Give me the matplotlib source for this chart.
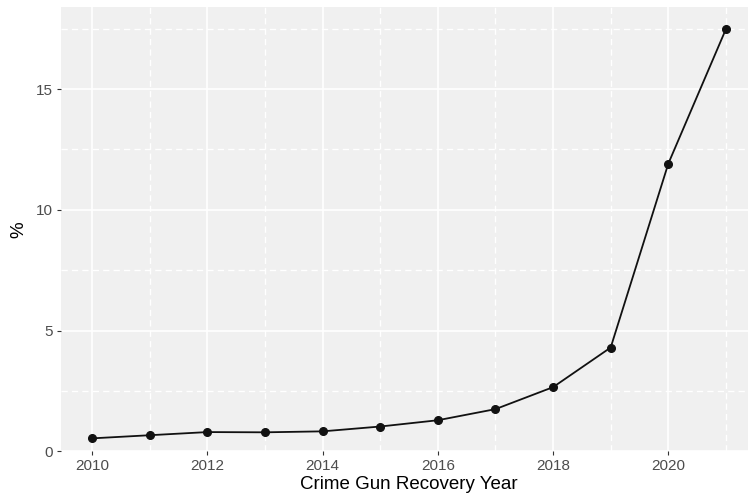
import matplotlib
matplotlib.use("Agg")
import matplotlib.pyplot as plt
from matplotlib.ticker import MultipleLocator

years = [2010, 2011, 2012, 2013, 2014, 2015, 2016, 2017, 2018, 2019, 2020, 2021]
pct = [0.54, 0.67, 0.80, 0.79, 0.83, 1.03, 1.29, 1.75, 2.66, 4.30, 11.91, 17.48]
x_ticks = [2010, 2012, 2014, 2016, 2018, 2020]
y_ticks = [0, 5, 10, 15]

plt.rcParams['font.family'] = ['Liberation Sans', 'DejaVu Sans']

W, H = 748, 498
fig = plt.figure(figsize=(W / 100, H / 100), dpi=100)
left, right, top, bottom = 60.5, 757.6, 7.5, 451.4
ax = fig.add_axes([left / W, 1 - bottom / H, (right - left) / W, (bottom - top) / H])

ax.set_facecolor('#F0F0F0')
for s in ax.spines.values():
    s.set_visible(False)

ax.set_xlim(2009.45, 2021.55)
ax.set_ylim(0, 18.375)
ax.set_xticks(x_ticks)
ax.set_yticks(y_ticks)
ax.xaxis.set_minor_locator(MultipleLocator(1))
ax.yaxis.set_minor_locator(MultipleLocator(2.5))

ax.grid(which='major', color='white', linewidth=1.2, linestyle='-')
ax.grid(which='minor', color='white', linewidth=1.0, linestyle=(0, (4.5, 3.0)))
ax.set_axisbelow(True)

ax.tick_params(which='major', length=2.7, width=0.8, color='#333333',
               labelcolor='#4D4D4D', labelsize=11, pad=3)
ax.tick_params(which='minor', length=0)

ax.plot(years, pct, color='#111111', linewidth=1.3, marker='o', markersize=5.5,
        clip_on=False, zorder=3)

ax.set_xlabel('Crime Gun Recovery Year', fontsize=13.5, color='black', labelpad=2)
ax.set_ylabel('%', fontsize=13.5, color='black', labelpad=6)

fig.savefig('out.png', dpi=100)
